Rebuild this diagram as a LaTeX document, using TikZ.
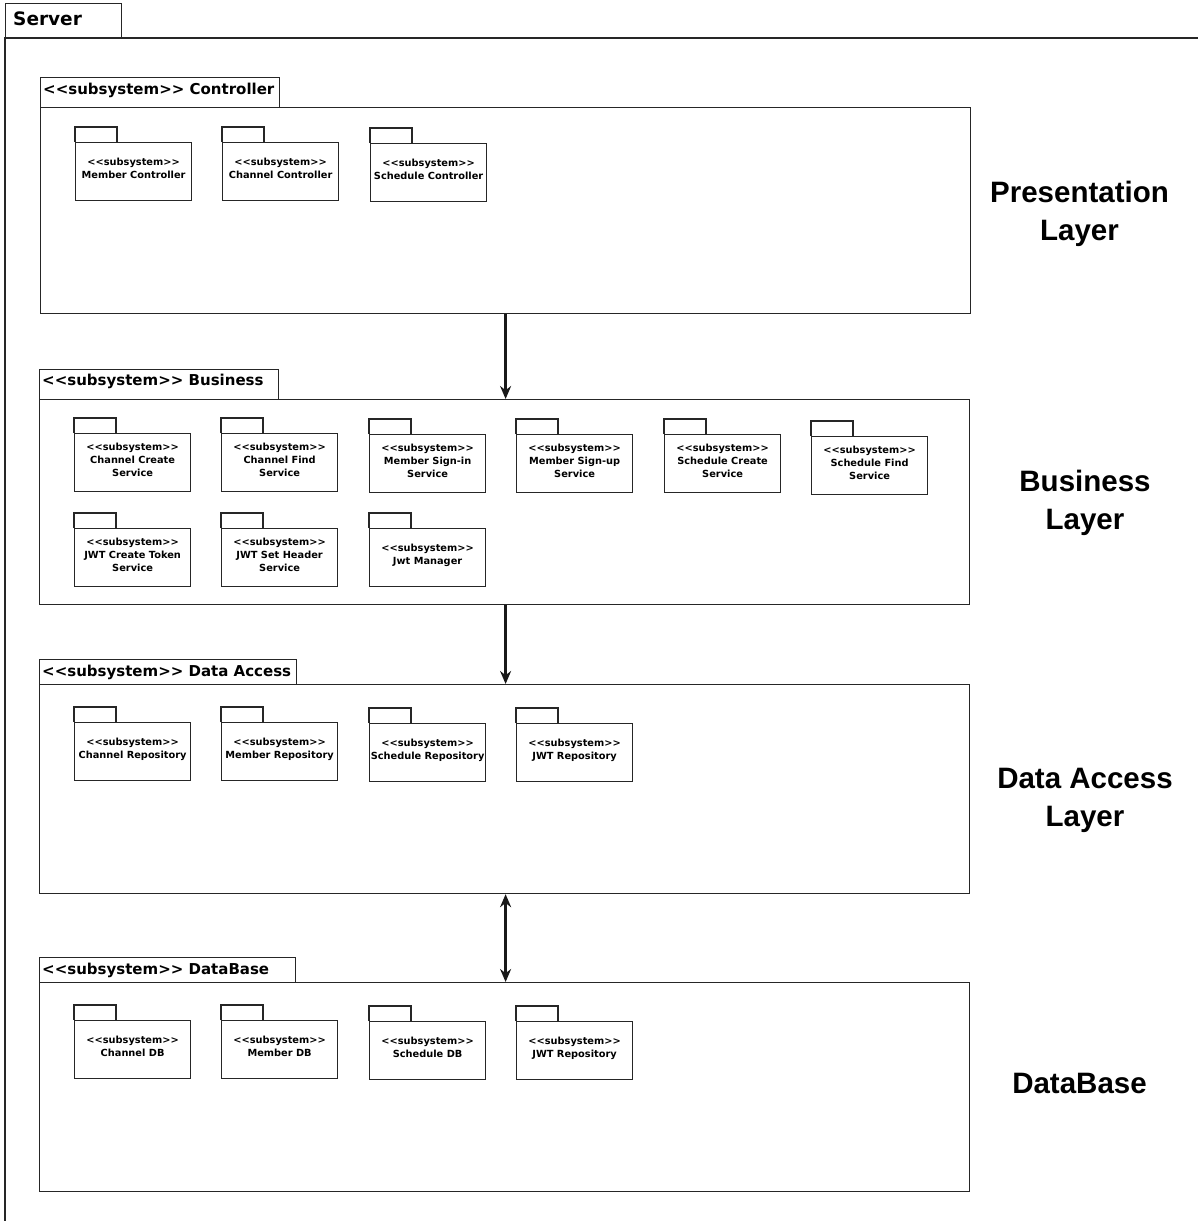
\documentclass[tikz,border=0pt]{standalone}
\usepackage{fontspec}
\newfontfamily\umlfont{DejaVu Sans}
\newfontfamily\layerfont{Liberation Sans}
\usetikzlibrary{arrows.meta}

% stereotype prefix used in every package name
\newcommand\stereo{<<subsystem>>}

% small package: name, left x, top y of tab, label
% (the short empty last line lifts the label slightly above the centre)
\newcommand\subpkg[4]{%
  \node[pkgbody, anchor=north west] (#1) at (#2,#3+15) {#4\\[-6.6pt]{}};
  \draw[frame] (#1.north west) -- ++(0,-15) -- ++(42,0) -- ++(0,15);}

\begin{document}
\begin{tikzpicture}[x=1pt,y=-1pt,
  frame/.style={draw=black!85, line width=1.2pt},
  pkgbody/.style={frame, fill=white, minimum width=116pt, minimum height=58pt,
    inner sep=0pt, align=center,
    font=\umlfont\bfseries\fontsize{9.8}{12.8}\selectfont},
  container/.style={frame, anchor=north west, minimum width=930pt, inner sep=0pt},
  tabtitle/.style={anchor=west, inner sep=0pt,
    font=\umlfont\bfseries\fontsize{15}{18}\selectfont},
  layer/.style={align=center, inner sep=0pt,
    font=\layerfont\bfseries\fontsize{29.5}{38}\selectfont},
  tip/.tip={Stealth[length=13pt,width=11pt]},
  flow/.style={draw=black!90, line width=2.4pt, -tip},
  biflow/.style={draw=black!90, line width=2.4pt, tip-tip}
]
\useasboundingbox (0,0) rectangle (1198,1221);

% ---- outer Server frame ----
\node[frame, anchor=north west, minimum width=116pt, minimum height=35pt, inner sep=0pt] (srvtab) at (5,3) {};
\node[anchor=west, inner sep=0pt, font=\umlfont\bfseries\fontsize{18.5}{22}\selectfont] (srvlbl) at (13,19) {Server};
\draw[frame] (1198,38) -- (5,38) -- (5,1221);

% ---- Controller subsystem ----
\node[frame, anchor=north west, minimum width=239pt, minimum height=30pt, inner sep=0pt] (ctrltab) at (40,77) {};
\node[tabtitle] (ctrltitle) at (43,90) {\stereo{} Controller};
\node[container, minimum height=206pt] (ctrl) at (40,107) {};
\subpkg{mc}{75}{127}{\stereo\\Member Controller}
\subpkg{cc}{222}{127}{\stereo\\Channel Controller}
\subpkg{sc}{370}{128}{\stereo\\Schedule Controller}

% ---- Business subsystem ----
\node[frame, anchor=north west, minimum width=239pt, minimum height=30pt, inner sep=0pt] (bustab) at (39,369) {};
\node[tabtitle] (bustitle) at (42,381) {\stereo{} Business};
\node[container, minimum height=205pt] (bus) at (39,399) {};
\subpkg{ccs}{74}{418}{\stereo\\Channel Create\\Service}
\subpkg{cfs}{221}{418}{\stereo\\Channel Find\\Service}
\subpkg{msi}{369}{419}{\stereo\\Member Sign-in\\Service}
\subpkg{msu}{516}{419}{\stereo\\Member Sign-up\\Service}
\subpkg{scs}{664}{419}{\stereo\\Schedule Create\\Service}
\subpkg{sfs}{811}{421}{\stereo\\Schedule Find\\Service}
\subpkg{jct}{74}{513}{\stereo\\JWT Create Token\\Service}
\subpkg{jsh}{221}{513}{\stereo\\JWT Set Header\\Service}
\subpkg{jm}{369}{513}{\stereo\\Jwt Manager}

% ---- Data Access subsystem ----
\node[frame, anchor=north west, minimum width=257pt, minimum height=25pt, inner sep=0pt] (daltab) at (39,659) {};
\node[tabtitle] (daltitle) at (42,672) {\stereo{} Data Access};
\node[container, minimum height=209pt] (dal) at (39,684) {};
\subpkg{cr}{74}{707}{\stereo\\Channel Repository}
\subpkg{mr}{221}{707}{\stereo\\Member Repository}
\subpkg{sr}{369}{708}{\stereo\\Schedule Repository}
\subpkg{jr}{516}{708}{\stereo\\JWT Repository}

% ---- DataBase subsystem ----
\node[frame, anchor=north west, minimum width=256pt, minimum height=25pt, inner sep=0pt] (dbtab) at (39,957) {};
\node[tabtitle] (dbtitle) at (42,970) {\stereo{} DataBase};
\node[container, minimum height=209pt] (db) at (39,982) {};
\subpkg{cdb}{74}{1005}{\stereo\\Channel DB}
\subpkg{mdb}{221}{1005}{\stereo\\Member DB}
\subpkg{sdb}{369}{1006}{\stereo\\Schedule DB}
\subpkg{jdb}{516}{1006}{\stereo\\JWT Repository}

% ---- dependencies between layers ----
\draw[flow] (ctrl.south) -- (ctrl.south |- bus.north);
\draw[flow] ([xshift=1pt]bus.south) -- ([xshift=1pt]bus.south |- dal.north);
\draw[biflow] ([xshift=1pt]dal.south) -- ([xshift=1pt]dal.south |- db.north);

% ---- layer captions ----
\node[layer] (lpres) at (1079.5,214) {Presentation\\Layer};
\node[layer] (lbus) at (1085,503) {Business\\Layer};
\node[layer] (ldal) at (1085,800) {Data Access\\Layer};
\node[layer] (ldb) at (1079.5,1083) {DataBase};
\end{tikzpicture}
\end{document}
